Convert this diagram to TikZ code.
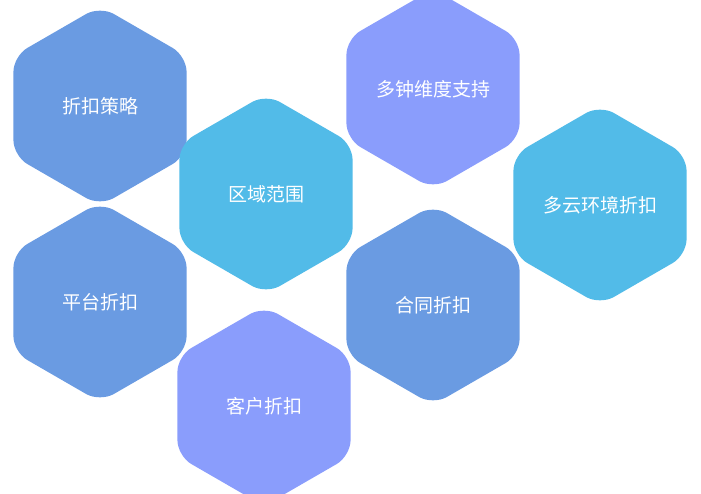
\documentclass[tikz,border=0pt]{standalone}
\usepackage{fontspec}
\newfontfamily\cjk{Noto Sans CJK SC}
\usetikzlibrary{shapes.geometric}
\definecolor{hexblue}{HTML}{6A9BE2}
\definecolor{hexsky}{HTML}{52BBE8}
\definecolor{hexviolet}{HTML}{8A9DFC}
\tikzset{hex/.style = {
    regular polygon, regular polygon sides=6, shape border rotate=30,
    minimum size=200pt, inner sep=0pt, rounded corners=16pt,
    text=white, font=\cjk\fontsize{19}{23}\selectfont
  }
}

\begin{document}
\begin{tikzpicture}[x=1pt, y=-1pt]
            \useasboundingbox (0,0) rectangle (701,494);
            % hexagons
            \node[hex, fill=hexblue] (policy) at (100, 106) {折扣策略};
            \node[hex, fill=hexsky] (region) at (266, 194) {区域范围};
            \node[hex, fill=hexviolet] (dims) at (433, 89) {多钟维度支持};
            \node[hex, fill=hexsky] (cloud) at (600, 205) {多云环境折扣};
            \node[hex, fill=hexblue] (platform) at (100, 302) {平台折扣};
            \node[hex, fill=hexblue] (contract) at (433, 305) {合同折扣};
            \node[hex, fill=hexviolet] (customer) at (264, 406) {客户折扣};
\end{tikzpicture}
\end{document}
